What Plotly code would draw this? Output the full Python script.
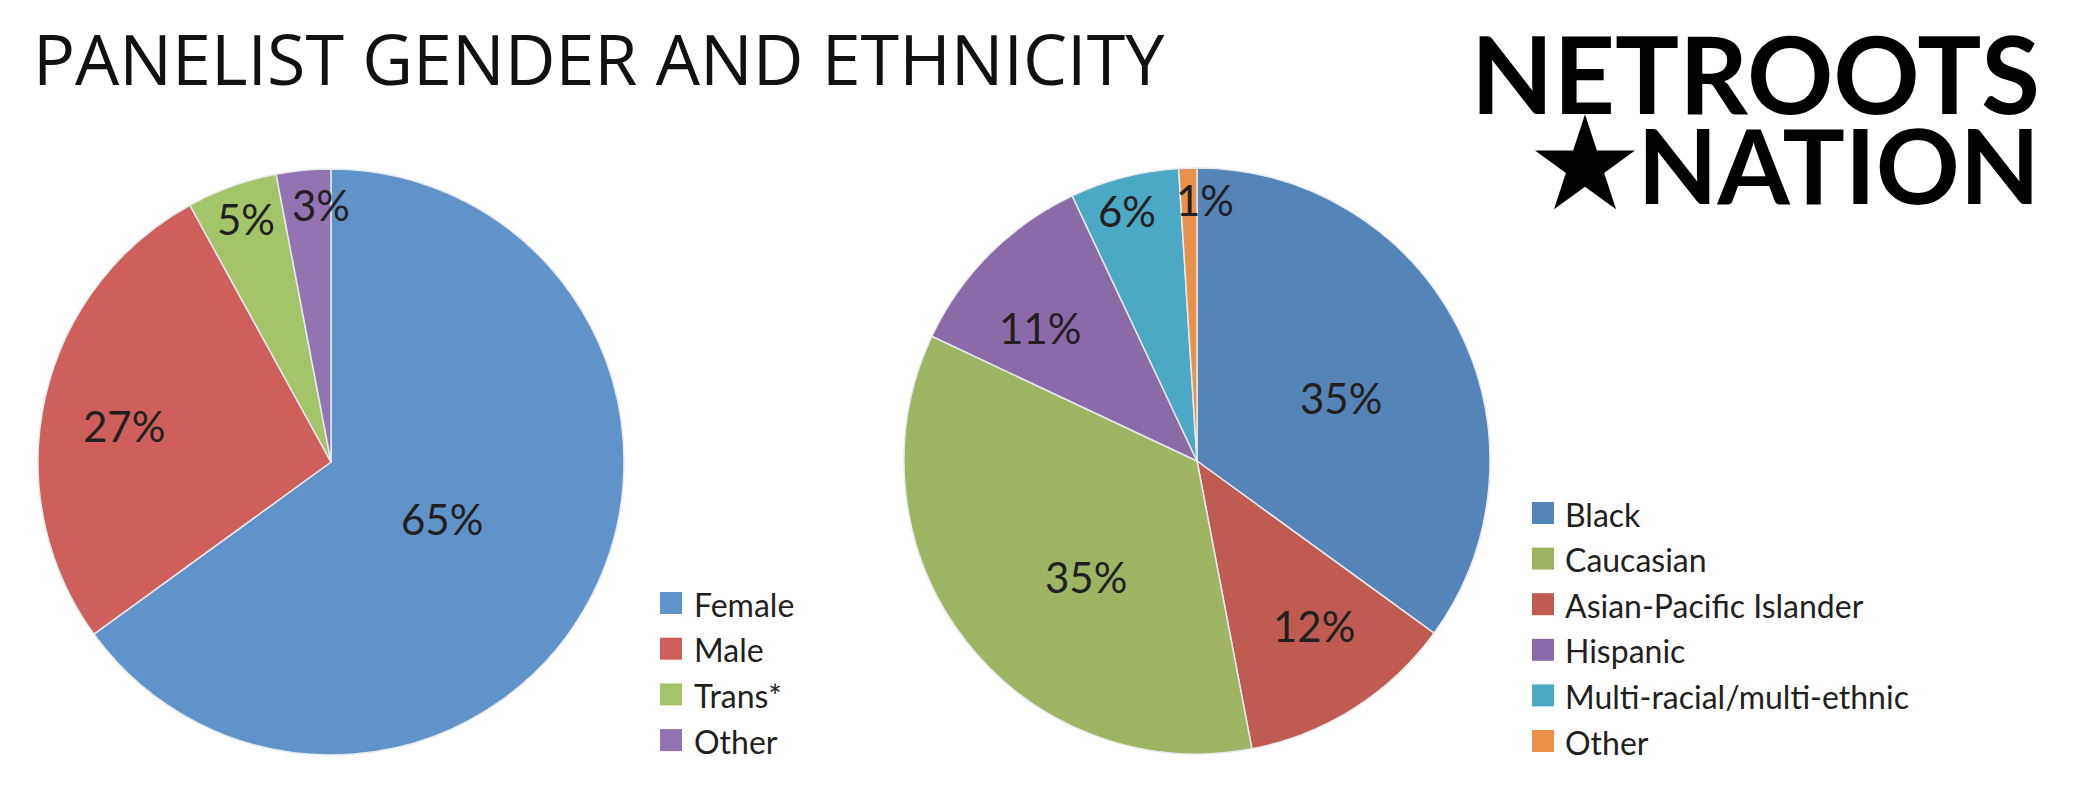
import math
import plotly.graph_objects as go

W, H = 2083, 796

# ---- data ----
gender_labels = ["Female", "Male", "Trans*", "Other"]
gender_values = [65, 27, 5, 3]
gender_colors = ["#5f93c9", "#cf5f5a", "#a4c46a", "#9274b3"]

eth_labels = ["Black", "Asian-Pacific Islander", "Caucasian", "Hispanic",
              "Multi-racial/multi-ethnic", "Other"]
eth_values = [35, 12, 35, 11, 6, 1]
eth_colors = ["#5584b9", "#c05b52", "#9db563", "#8a6ba8", "#4ca9c5", "#e9904b"]

eth_legend_order = ["Black", "Caucasian", "Asian-Pacific Islander", "Hispanic",
                    "Multi-racial/multi-ethnic", "Other"]

title_text = "PANELIST GENDER AND ETHNICITY"
logo_line1 = "NETROOTS"
logo_line2 = "NATION"

# ---- styling / layout ----
FONT = "Lato"
TXT = "#231f20"
LEFT_C, RIGHT_C, R = (331, 462), (1197, 461), 293
gender_label_r = [0.425, 0.71, 0.88, 0.88]
gender_label_dx = [0, -4, 2, 14]
gender_label_dy = [0, 9, 0, 0]
eth_label_r = [0.54, 0.70, 0.55, 0.70, 0.88, 0.89]
eth_label_dx = [3, 7, 16, -12, -6, 16]
eth_label_dy = [9, -8, 17, 12, 0, 0]


def px(x):
    return x / W


def py(y):
    return 1 - y / H


fig = go.Figure()


def add_pie(labels, values, colors, centre):
    cx, cy = centre
    fig.add_trace(go.Pie(
        labels=labels, values=values, sort=False,
        direction="clockwise", rotation=0,
        marker=dict(colors=colors, line=dict(color="#e6e9ee", width=1.5)),
        textinfo="none",
        domain=dict(x=[px(cx - R), px(cx + R)], y=[py(cy + R), py(cy - R)]),
        showlegend=False, hoverinfo="label+percent",
    ))


add_pie(gender_labels, gender_values, gender_colors, LEFT_C)
add_pie(eth_labels, eth_values, eth_colors, RIGHT_C)

shapes = []
annotations = []


def add_slice_labels(values, centre, rfrac, dx, dy):
    cx, cy = centre
    total = float(sum(values))
    cum = 0.0
    for v, f, ddx, ddy in zip(values, rfrac, dx, dy):
        mid = (cum + v / 2.0) / total * 2 * math.pi
        cum += v
        x = cx + math.sin(mid) * f * R + ddx
        y = cy - math.cos(mid) * f * R + ddy
        annotations.append(dict(text=f"{v}%", xref="paper", yref="paper",
                                x=px(x), y=py(y), xanchor="center", yanchor="middle",
                                showarrow=False,
                                font=dict(family=FONT, size=42, color=TXT)))


add_slice_labels(gender_values, LEFT_C, gender_label_r, gender_label_dx, gender_label_dy)
add_slice_labels(eth_values, RIGHT_C, eth_label_r, eth_label_dx, eth_label_dy)


def add_legend(labels, colors, box_x, text_x, y0, step):
    for i, (lab, col) in enumerate(zip(labels, colors)):
        yc = y0 + i * step
        shapes.append(dict(type="rect", xref="paper", yref="paper",
                           x0=px(box_x), x1=px(box_x + 22),
                           y0=py(yc + 11), y1=py(yc - 11),
                           fillcolor=col, line=dict(width=0)))
        annotations.append(dict(text=lab, xref="paper", yref="paper",
                                x=px(text_x), y=py(yc + 1), xanchor="left", yanchor="middle",
                                showarrow=False,
                                font=dict(family=FONT, size=32, color=TXT)))


add_legend(gender_labels, gender_colors, 660, 692, 603, 45.7)
eth_color_map = dict(zip(eth_labels, eth_colors))
add_legend(eth_legend_order, [eth_color_map[l] for l in eth_legend_order],
           1532, 1563, 513, 45.6)

annotations.append(dict(text=title_text, xref="paper", yref="paper",
                        x=px(31), y=py(58), xanchor="left", yanchor="middle",
                        showarrow=False,
                        font=dict(family="Open Sans", size=70, color="#111111")))

logo_html = ("<span style='font-size:107px'><b>" + logo_line1 + "</b></span><br>"
             "<span style='font-size:116px'>★</span>"
             "<span style='font-size:104px'><b>" + logo_line2 + "</b></span>")
annotations.append(dict(text=logo_html, xref="paper", yref="paper",
                        x=px(2042), y=py(118), xanchor="right", yanchor="middle",
                        align="right", showarrow=False,
                        font=dict(family=FONT, size=69, color="#000000", weight=900)))

fig.update_layout(
    width=W, height=H,
    margin=dict(l=0, r=0, t=0, b=0),
    paper_bgcolor="white", plot_bgcolor="white",
    shapes=shapes, annotations=annotations,
    showlegend=False,
)

fig.write_html("out.html")
